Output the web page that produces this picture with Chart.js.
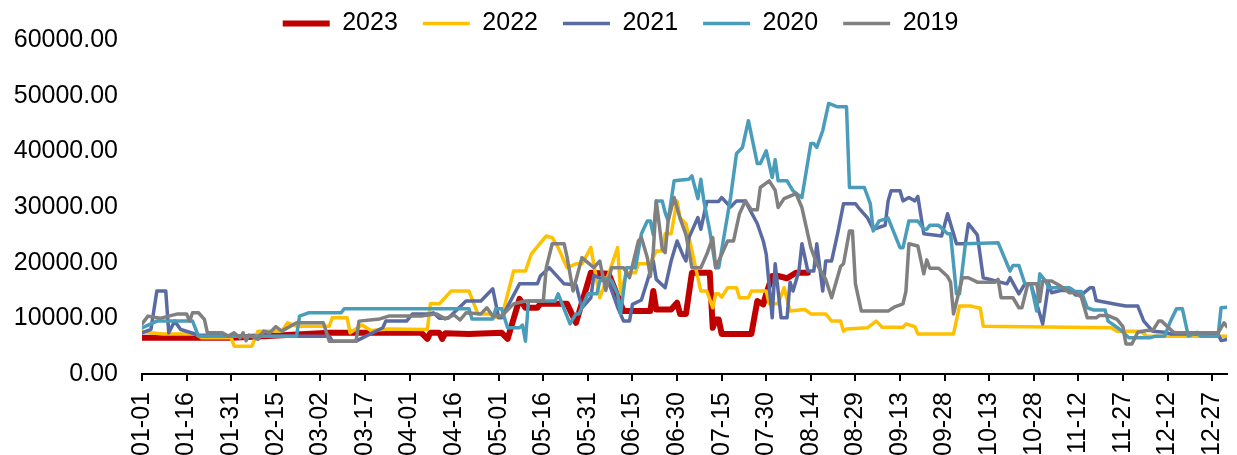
<!DOCTYPE html>
<html>
<head>
<meta charset="utf-8">
<script src="https://cdn.jsdelivr.net/npm/chart.js@4.4.1/dist/chart.umd.min.js"></script>
<style>
  html, body { margin: 0; padding: 0; background: #fff; }
  canvas { display: block; }
</style>
</head>
<body>
<canvas id="chart" width="1237" height="455"></canvas>
<script>
// day of year (0 = 01-01) and value
const days2023 = [0,30,41,63,94,96,97,100,101,102,110,121,123,127,129,133,134,143,146,151,157,160,162,171,172,173,178,180,181,183,185,191,192,193,194,195,205,207,209,210,212,214,217,220,224];
const vals2023 = [6500,6500,6800,7400,7400,6300,7400,7400,6300,7300,7200,7400,6300,13500,11900,11900,12600,12600,9200,18200,18000,14000,11300,11300,14900,11600,11600,12800,10800,10800,18200,18200,8300,9800,9800,7200,7200,13100,12500,14400,17600,17600,17200,18200,18200];

const days2022 = [0,3,7,18,20,30,31,37,39,47,49,52,63,64,69,70,74,77,83,96,97,100,104,110,113,117,119,121,125,129,131,136,138,140,143,146,148,151,154,157,160,161,163,166,167,171,173,175,176,178,180,181,183,185,188,190,192,193,194,195,197,200,201,204,205,210,211,214,216,218,223,225,230,232,235,236,237,244,247,249,256,257,260,261,273,275,279,282,283,326,328,336,338,365];
const vals2022 = [7700,7400,7200,7200,6500,6500,5000,5000,7700,7700,9200,8600,8600,10100,10100,7400,8800,7800,8100,8000,12600,12600,14900,14900,10800,10800,10200,10200,18500,18500,21600,24800,24500,22700,19100,19800,19800,22700,13700,18000,22700,14600,18200,18200,19800,19800,22100,22100,25200,25200,31100,28000,27000,22100,14900,14900,11900,14400,14400,13800,15500,15500,13700,13700,14900,14900,12600,12600,15500,11300,11600,10800,10800,9500,9500,7700,8100,8300,9500,8400,8400,9000,8500,7200,7200,12200,12200,11800,8600,8300,7700,7700,6800,6800];

const days2021 = [0,3,5,8,9,11,13,19,30,63,64,72,81,82,89,91,97,98,100,103,109,114,118,120,121,127,133,134,137,142,146,148,151,152,157,160,162,164,165,168,170,172,173,176,178,180,182,183,184,187,188,190,194,195,198,200,203,204,207,209,210,212,213,215,217,218,219,221,222,224,226,227,229,230,232,234,236,240,241,244,246,250,251,252,255,256,258,260,261,263,269,271,274,277,278,281,283,291,292,295,297,299,303,305,306,309,313,314,316,319,320,321,328,331,335,337,340,344,346,362,363,365];
const vals2021 = [7400,8000,14900,14900,7400,9500,8000,7000,6800,6800,5900,5900,8300,9500,9500,10800,10800,11000,10000,10000,13100,13100,15300,10100,10100,16200,16200,17600,19100,16200,16000,11900,13700,17700,16500,12000,9500,9500,12500,13300,16700,20300,17000,15500,20300,23900,21300,20300,24500,28100,26000,31000,31000,31700,30000,31100,31100,30000,27000,23900,21500,10100,19800,10100,10100,16500,14900,18500,23400,18500,18500,23400,14900,20300,20300,25200,30600,30600,29900,28100,26000,26700,31100,32900,32900,31100,31700,31100,31900,25200,24800,28800,23400,23400,27000,25000,17300,16200,17300,14400,16200,16200,9000,16200,14600,15000,15000,14200,14200,15500,15500,13200,12500,12200,12200,9500,7700,7500,7200,7200,6000,6200];

const days2020 = [0,5,17,19,52,53,56,67,68,110,111,118,119,121,123,127,128,129,130,139,140,144,146,147,150,153,154,157,158,160,161,163,166,167,168,170,171,172,173,175,176,177,179,184,185,187,188,189,191,193,194,198,200,202,204,207,208,210,212,213,214,217,219,222,225,226,227,229,231,234,237,238,243,245,246,248,251,255,256,258,261,263,264,265,268,271,272,274,275,277,288,292,293,295,297,299,301,302,304,305,312,314,316,318,320,324,325,329,332,339,341,344,346,348,350,352,355,356,362,363,365];
const vals2020 = [8300,9500,9500,6800,6800,10400,11000,11000,11700,11700,9900,9900,11700,11700,8300,8300,8800,5900,13100,13100,14400,9000,10800,10800,14400,14400,16700,17300,16700,14400,10800,19100,19100,22100,25200,27500,27500,25000,31100,31100,29000,27500,34700,35000,35600,31500,35000,31100,25700,19100,19100,31700,39600,40700,45500,37800,37800,40100,35300,38500,34700,34700,32900,31700,41400,41400,40700,43700,48600,48000,48000,33500,33500,30600,25700,27500,28000,22700,22700,27500,27500,26000,26000,26700,26700,25200,25200,14400,14400,23400,23600,18500,19500,19500,16200,16200,11300,18000,16700,15500,15500,14800,14800,11900,11500,11500,9500,8000,6500,6500,6800,6800,9500,11700,11700,6800,7500,6800,6800,11900,12000];

const days2019 = [0,2,6,12,15,16,17,19,21,22,27,29,31,33,34,35,36,39,41,43,45,47,52,61,63,72,73,80,83,94,99,102,105,107,109,114,116,118,121,125,129,135,136,138,142,143,145,148,152,154,156,158,162,164,167,168,170,171,172,173,175,176,177,179,181,183,185,188,190,192,193,197,199,201,203,205,207,208,211,213,214,216,220,222,225,227,230,232,235,236,238,239,240,242,251,253,256,257,258,261,263,264,265,268,271,272,273,276,278,281,287,288,289,293,295,296,298,301,302,303,306,309,312,314,316,318,321,322,325,328,330,331,333,335,338,340,342,343,344,347,348,362,364,365];
const vals2019 = [9000,10400,10000,10800,10800,9500,11000,11000,9800,7400,7400,6800,7400,6500,7400,6000,7000,6200,7700,7400,8500,7700,9200,9200,5900,5900,9500,9900,10400,10400,10800,9900,10600,9700,11000,10800,11900,10400,10400,12600,13100,13100,19100,23400,23400,21000,14900,20900,19100,20300,15000,19100,19100,17300,23900,24500,20900,17500,22000,31100,22500,21800,27500,31700,28000,25000,19100,19100,21500,24500,19100,23900,23900,28800,31100,29500,29500,33500,34700,33000,29900,31500,32400,29900,22700,19800,17000,13700,19300,19800,25700,25700,16200,11300,11300,12000,12600,14900,23400,23000,18000,20500,19000,19000,17500,16500,10800,17300,17300,16500,16500,17000,13700,13700,11900,11900,16200,16200,13000,16700,16700,15800,14600,14600,13800,10100,10100,10500,10500,9800,8500,5400,5400,7500,7800,7800,9500,9500,9000,7500,7400,7400,9200,8500];

const seriesNames = ['2023', '2022', '2021', '2020', '2019'];
const seriesColors = ['#C00000', '#FFC000', '#5A6BA3', '#4A9CBB', '#808080'];
const seriesWidths = [6, 3.5, 3.5, 3.5, 3.5];
const seriesDays = [days2023, days2022, days2021, days2020, days2019];
const seriesVals = [vals2023, vals2022, vals2021, vals2020, vals2019];

function dayLabel(d) {
    const date = new Date(2023, 0, 1 + d);
    const mm = String(date.getMonth() + 1).padStart(2, '0');
    const dd = String(date.getDate()).padStart(2, '0');
    return mm + '-' + dd;
}

const datasets = seriesNames.map((name, i) => ({
    label: name,
    data: seriesDays[i].map((d, j) => ({ x: d, y: seriesVals[i][j] })),
    borderColor: seriesColors[i],
    backgroundColor: seriesColors[i],
    borderWidth: seriesWidths[i],
    order: seriesNames.length - 1 - i // later years drawn on top, like the original
}));

Chart.defaults.font.family = "'Liberation Sans', Arial, sans-serif";
Chart.defaults.color = '#000';

const ctx = document.getElementById('chart').getContext('2d');
new Chart(ctx, {
    type: 'line',
    data: { datasets: datasets },
    options: {
        responsive: false,
        animation: false,
        devicePixelRatio: 1,
        layout: { padding: { top: -14, right: 10, bottom: 0, left: 14 } },
        elements: {
            point: { radius: 0 },
            line: { tension: 0, borderJoinStyle: 'round', borderCapStyle: 'round' }
        },
        plugins: {
            legend: {
                position: 'top',
                maxHeight: 54,
                labels: {
                    usePointStyle: true,
                    pointStyle: 'line',
                    pointStyleWidth: 47,
                    padding: 25,
                    color: '#000',
                    font: { size: 25 },
                    sort: (a, b) => a.datasetIndex - b.datasetIndex
                }
            },
            tooltip: { enabled: false }
        },
        scales: {
            x: {
                type: 'linear',
                min: 0,
                max: 365,
                grid: { drawOnChartArea: false, drawTicks: true, tickLength: 7, color: '#000', lineWidth: 2 },
                border: { display: true, color: '#000', width: 2 },
                ticks: {
                    stepSize: 15,
                    includeBounds: false,
                    autoSkip: false,
                    maxRotation: 90,
                    minRotation: 90,
                    padding: 11,
                    color: '#000',
                    font: { size: 25 },
                    callback: (v) => dayLabel(v)
                },
                afterFit: (scale) => {
                    scale.height = 81;
                    scale.paddingRight = 0; // axis runs to the right edge like the original
                }
            },
            y: {
                min: 0,
                max: 60000,
                grid: { display: false, drawTicks: false },
                border: { display: false },
                ticks: {
                    stepSize: 10000,
                    padding: 24,
                    color: '#000',
                    font: { size: 25 },
                    callback: (v) => Number(v).toFixed(2)
                },
                afterFit: (scale) => { scale.width = 128; }
            }
        }
    }
});
</script>
</body>
</html>
